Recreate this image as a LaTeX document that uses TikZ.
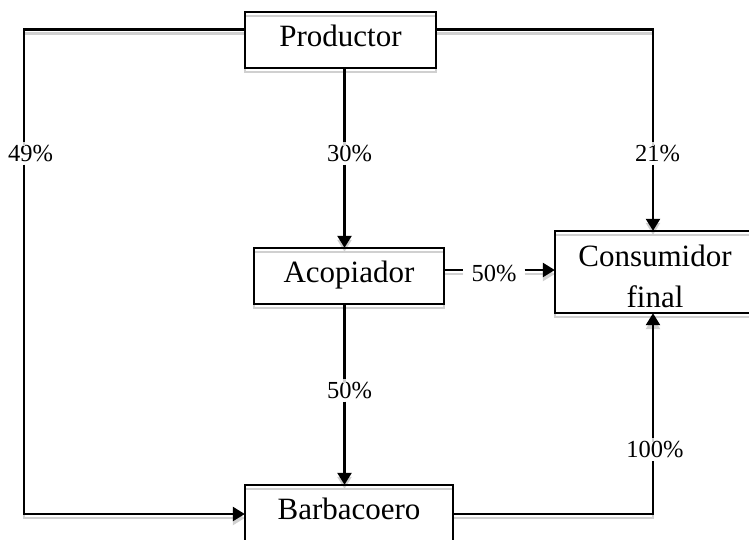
\documentclass[tikz,border=0pt]{standalone}
\usepackage{fontspec}
\setmainfont{Liberation Serif}
\usetikzlibrary{arrows.meta}
\definecolor{shadowc}{RGB}{208,208,208}
\tikzset{
  box/.style={inner sep=0pt,
    font=\fontsize{31}{41}\selectfont, text height=21pt, text depth=9pt},
  conn/.style={line width=2.5pt},
  arr/.style={conn, -{Triangle[length=12pt,width=14pt]}},
  lbl/.style={inner xsep=2pt, inner ysep=3pt, anchor=base,
    font=\fontsize{24.5}{28}\selectfont}
}
\newcommand\flowlines[1]{%
  \foreach \b in {prod,acop,barb,cons}
    \draw[#1, line width=2pt] (\b.south west) rectangle (\b.north east);
  % Productor -> Barbacoero (49%)
  \draw[conn,#1] (prod.west |- tl) -- (tl) -- (l49.north -| tl);
  \draw[arr,#1] (l49.south -| tl) -- (bl) -- (barb.west |- bl);
  % Productor -> Acopiador (30%)
  \draw[conn,#1] (prod.south -| mx) -- (l30.north -| mx);
  \draw[arr,#1] (l30.south -| mx) -- (acop.north -| mx);
  % Productor -> Consumidor (21%)
  \draw[conn,#1] (prod.east |- tr) -- (tr) -- (l21.north -| tr);
  \draw[arr,#1] (l21.south -| tr) -- (cons.north -| tr);
  % Acopiador -> Consumidor (50%)
  \draw[conn,#1] (acop.east |- hy) -- (l50a.west |- hy);
  \draw[arr,#1] (l50a.east |- hy) -- (cons.west |- hy);
  % Acopiador -> Barbacoero (50%)
  \draw[conn,#1] (acop.south -| mx) -- (l50b.north -| mx);
  \draw[arr,#1] (l50b.south -| mx) -- (barb.north -| mx);
  % Barbacoero -> Consumidor (100%)
  \draw[conn,#1] (barb.east |- br) -- (br) -- (l100.south -| br);
  \draw[arr,#1] (l100.north -| br) -- (cons.south -| br);
}
\begin{document}
\begin{tikzpicture}[x=1pt,y=-1pt]
\fill[white] (0,0) rectangle (749,539);
\useasboundingbox (0,0) rectangle (749,539);
% helper coordinates
\coordinate (tl) at (24,29.5);
\coordinate (tr) at (653,29.5);
\coordinate (bl) at (24,514);
\coordinate (br) at (653,514);
\coordinate (mx) at (344.5,0);
\coordinate (hy) at (0,270);
% boxes (outlines drawn with their shadows below)
\node[box, minimum width=191pt, minimum height=56pt] (prod) at (340.5,40) {Productor};
\node[box, minimum width=190pt, minimum height=56pt] (acop) at (349,276) {Acopiador};
\node[box, minimum width=208pt, minimum height=56pt] (barb) at (349,513) {Barbacoero};
\node[box, minimum width=200pt, minimum height=82pt, align=center,
      text height=70pt, text depth=0pt] (cons) at (655,272) {Consumidor\\final};
% labels
\node[lbl] (l49) at (30.5,161) {49\%};
\node[lbl] (l30) at (349.5,161) {30\%};
\node[lbl] (l21) at (657.5,161) {21\%};
\node[lbl, inner xsep=8pt] (l50a) at (494,281.5) {50\%};
\node[lbl] (l50b) at (349.5,398) {50\%};
\node[lbl] (l100) at (655,457) {100\%};
% shadows
\begin{scope}[transform canvas={yshift=-4pt}]
  \flowlines{shadowc}
\end{scope}
% outlines and connectors
\flowlines{black}
\end{tikzpicture}
\end{document}
